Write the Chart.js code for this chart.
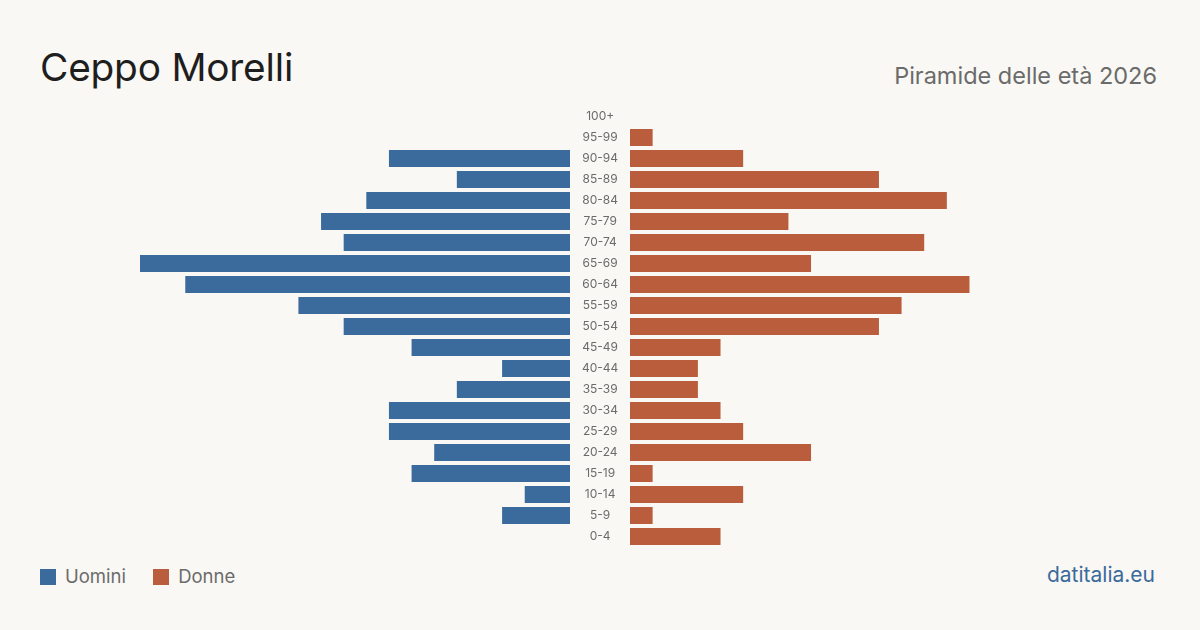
<!DOCTYPE html>
<html>
<head>
<meta charset="utf-8">
<script src="https://cdn.jsdelivr.net/npm/chart.js@4"></script>
<style>
  html, body { margin: 0; padding: 0; }
  body { width: 1200px; height: 630px; background: #f9f8f4; position: relative; overflow: hidden; font-family: Inter, sans-serif; }
  #title { position: absolute; left: 40px; top: 48px; font-size: 38.8px; color: #1e1e1e; line-height: 1; letter-spacing: -0.2px; }
  #subtitle { position: absolute; right: 43px; top: 64px; font-size: 23.5px; color: #6b6b6b; line-height: 1; }
  #left-wrap { position: absolute; left: 140px; top: 106px; width: 490px; height: 441px; }
  #right-wrap { position: absolute; left: 630px; top: 106px; width: 430px; height: 441px; }
  #legend { position: absolute; left: 40px; top: 566px; font-size: 18.5px; color: #6b6b6b; line-height: 20px; }
  #legend span.sw { display: inline-block; width: 16px; height: 16px; vertical-align: -2px; margin-right: 9px; }
  #legend span.item { margin-right: 22px; }
  #source { position: absolute; right: 45px; top: 564px; font-size: 21px; color: #3b6a9c; line-height: 22px; }
</style>
</head>
<body>
<div id="title">Ceppo Morelli</div>
<div id="subtitle">Piramide delle età 2026</div>
<div id="left-wrap"><canvas id="chart-men"></canvas></div>
<div id="right-wrap"><canvas id="chart-women"></canvas></div>
<div id="legend">
  <span class="item"><span class="sw" style="background:#3b6a9c"></span>Uomini</span>
  <span class="item"><span class="sw" style="background:#b95d3c"></span>Donne</span>
</div>
<div id="source">datitalia.eu</div>
<script>
(function () {
  'use strict';

  const ageGroups = ['100+', '95-99', '90-94', '85-89', '80-84', '75-79', '70-74', '65-69', '60-64', '55-59',
    '50-54', '45-49', '40-44', '35-39', '30-34', '25-29', '20-24', '15-19', '10-14', '5-9', '0-4'];
  const men = [0, 0, 8, 5, 9, 11, 10, 19, 17, 12, 10, 7, 3, 5, 8, 8, 6, 7, 2, 3, 0];
  const women = [0, 1, 5, 11, 14, 7, 13, 8, 15, 12, 11, 4, 3, 3, 4, 5, 8, 1, 5, 1, 4];
  const axisMax = 19;

  const BLUE = '#3b6a9c';
  const ORANGE = '#b95d3c';

  Chart.defaults.font.family = 'Inter, sans-serif';
  Chart.defaults.animation = false;

  function baseOpts(reverse) {
    return {
      indexAxis: 'y',
      responsive: true,
      maintainAspectRatio: false,
      layout: { padding: 0 },
      plugins: { legend: { display: false }, tooltip: { enabled: false } },
      scales: {
        x: { display: false, min: 0, max: axisMax, reverse: reverse },
        y: { display: false }
      }
    };
  }

  // Uomini (left) – age labels drawn by its y axis, centred in the 60px gap
  const menOpts = baseOpts(true);
  menOpts.scales.y = {
    position: 'right',
    grid: { display: false, drawTicks: false },
    border: { display: false },
    ticks: { crossAlign: 'center', padding: 12, color: '#6b6b6b', font: { size: 12 } },
    afterFit: function (s) {
      s.width = 60;
      s.paddingTop = 0;
      s.paddingBottom = 0;
    }
  };

  function dataset(values, color) {
    return { data: values, backgroundColor: color, borderWidth: 0, barThickness: 17, inflateAmount: 0 };
  }

  new Chart(document.getElementById('chart-men'), {
    type: 'bar',
    data: { labels: ageGroups, datasets: [dataset(men, BLUE)] },
    options: menOpts
  });

  // Donne (right)
  new Chart(document.getElementById('chart-women'), {
    type: 'bar',
    data: { labels: ageGroups, datasets: [dataset(women, ORANGE)] },
    options: baseOpts(false)
  });
})();
</script>
</body>
</html>
